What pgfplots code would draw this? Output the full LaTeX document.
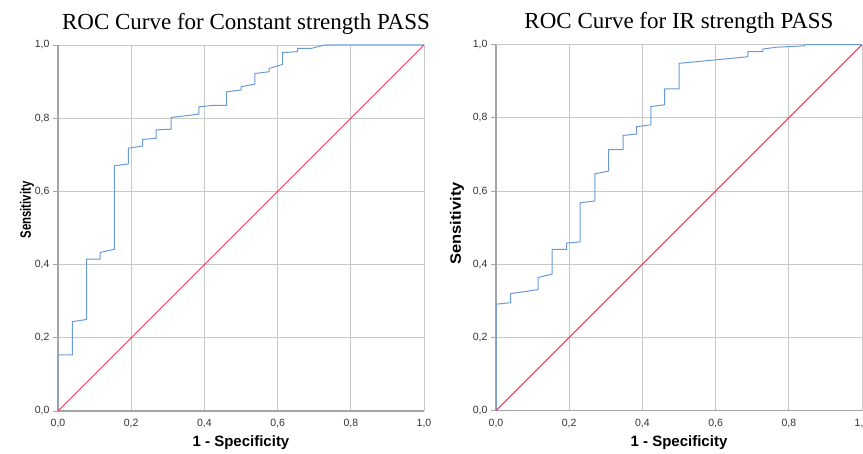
\documentclass[border=0pt]{standalone}
\usepackage{fontspec}
\setmainfont{Liberation Serif}
\setsansfont{Liberation Sans}
\usepackage{pgfplots}
\pgfplotsset{compat=1.18}
\definecolor{rocblue}{RGB}{105,155,215}
\definecolor{rocred}{RGB}{235,60,90}
\definecolor{gridgray}{RGB}{200,200,200}
\definecolor{axgray}{RGB}{165,165,165}
\pgfplotsset{
  rocaxis/.style={
    scale only axis, width=366pt, height=366pt,
    anchor=south west,
    xmin=0, xmax=1, ymin=0, ymax=1,
    xtick={0,0.2,0.4,0.6,0.8,1}, ytick={0,0.2,0.4,0.6,0.8,1},
    grid=major,
    major grid style={color=gridgray, line width=0.9pt},
    axis x line*=bottom, axis y line*=left,
    axis line style={color=axgray, line width=1.2pt, -},
    tick align=outside,
    xtick style={draw=none},
    ytick style={color=axgray, line width=0.9pt},
    major tick length=5pt,
    ticklabel style={font=\sffamily\fontsize{10.5}{12}\selectfont, color=black!80},
    /pgf/number format/.cd, use comma, fixed, fixed zerofill, precision=1, assume math mode=true,
    /pgfplots/.cd,
    xlabel={1 - Specificity},
    xlabel style={font=\sffamily\bfseries\fontsize{15}{18}\selectfont, at={(axis description cs:0.5,0)}, anchor=center, yshift=-32pt},
    ylabel style={font=\sffamily\bfseries\fontsize{15}{18}\selectfont, anchor=center},
  }
}
\begin{document}
\begin{tikzpicture}[x=1pt,y=1pt]
\path[use as bounding box, clip] (0,0) rectangle (863,454);
\begin{axis}[rocaxis, at={(58pt,43pt)},
  ylabel={\scalebox{0.76}[1]{Sensitivity}},
  ylabel style={at={(axis description cs:-0.0847,0.549)}}]
\addplot[rocblue, line width=1pt] coordinates {
(0,0) (0,0.153) (0.039,0.153) (0.039,0.244) (0.078,0.25) (0.078,0.415)
(0.115,0.415) (0.115,0.433) (0.154,0.442) (0.154,0.670) (0.192,0.675)
(0.192,0.718) (0.231,0.724) (0.231,0.742) (0.268,0.745) (0.268,0.768)
(0.309,0.770) (0.309,0.802) (0.385,0.811) (0.385,0.831) (0.424,0.835)
(0.461,0.835) (0.461,0.872) (0.5,0.877) (0.5,0.886) (0.538,0.893)
(0.538,0.922) (0.577,0.927) (0.577,0.936) (0.614,0.947) (0.614,0.979)
(0.655,0.982) (0.655,0.991) (0.693,0.991) (0.730,1) (1,1)};
\addplot[rocred, line width=1pt] coordinates {(0,0) (1,1)};
\end{axis}
\begin{axis}[rocaxis, at={(496pt,43.3pt)},
  ylabel={\scalebox{1.1}[1]{Sensitivity}},
  ylabel style={at={(axis description cs:-0.1066,0.512)}}]
\addplot[rocblue, line width=1pt] coordinates {
(0,0) (0,0.291) (0.040,0.295) (0.040,0.320) (0.076,0.325) (0.115,0.331)
(0.115,0.364) (0.153,0.373) (0.153,0.441) (0.193,0.441) (0.193,0.458)
(0.230,0.461) (0.230,0.568) (0.270,0.573) (0.270,0.647) (0.308,0.655)
(0.308,0.713) (0.347,0.713) (0.347,0.752) (0.384,0.756) (0.384,0.776)
(0.423,0.781) (0.423,0.831) (0.461,0.836) (0.461,0.879) (0.5,0.879)
(0.5,0.949) (0.688,0.967) (0.688,0.981) (0.729,0.981) (0.729,0.988)
(0.765,0.993) (0.843,0.997) (0.843,1) (1,1)};
\addplot[rocred, line width=1pt] coordinates {(0,0) (1,1)};
\end{axis}
\node[anchor=base, font=\fontsize{23}{27}\selectfont] at (246,424.7) {ROC Curve for Constant strength PASS};
\node[anchor=base, font=\fontsize{23}{27}\selectfont] at (679,425.7) {ROC Curve for IR strength PASS};
\end{tikzpicture}
\end{document}
